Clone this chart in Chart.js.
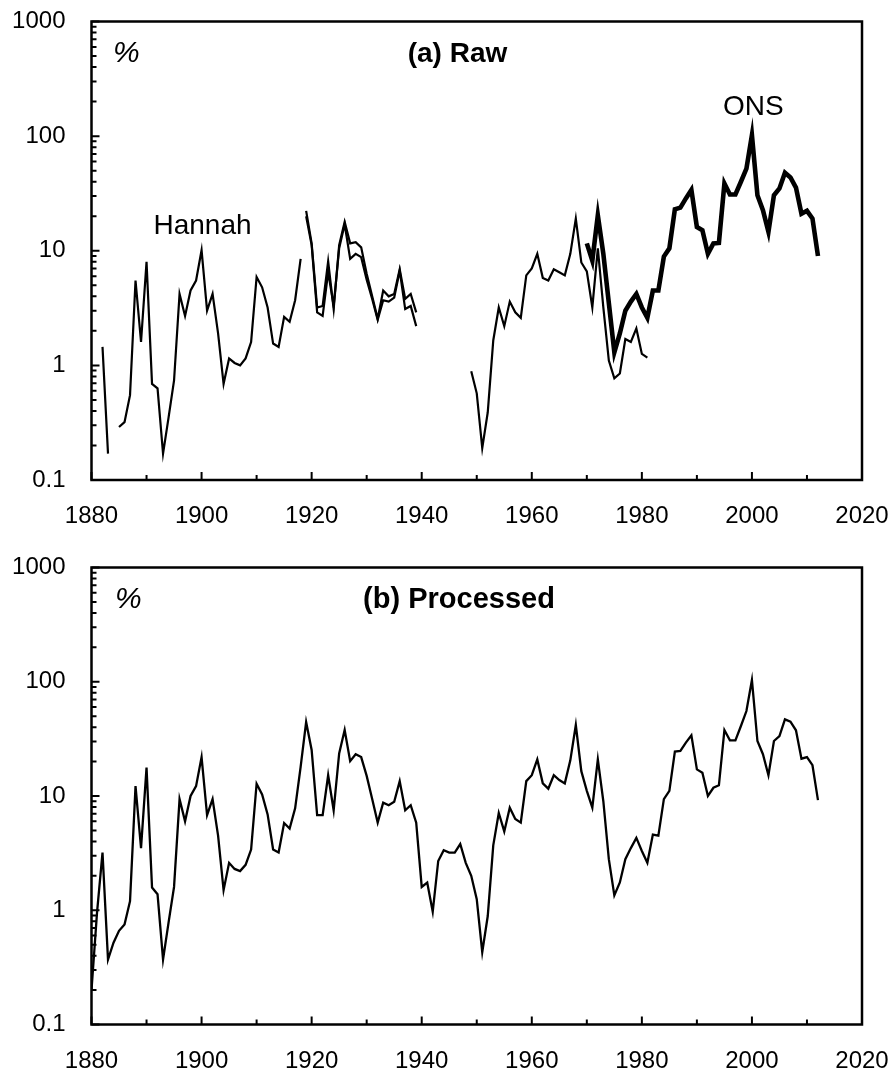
<!DOCTYPE html>
<html>
<head>
<meta charset="utf-8">
<script src="https://cdn.jsdelivr.net/npm/chart.js@4"></script>
<style>
  html, body { margin: 0; padding: 0; background: #fff; }
  #wrap { position: relative; width: 891px; height: 1073px; }
  canvas { position: absolute; left: 0; }
  #rawChart { top: 0; }
  #procChart { top: 536px; }
</style>
</head>
<body>
<div id="wrap">
  <canvas id="rawChart" width="891" height="536"></canvas>
  <canvas id="procChart" width="891" height="537"></canvas>
</div>
<script>
// axis ticks
const yDecades = [0.1, 1, 10, 100, 1000];
const xLabelYears = [1880, 1900, 1920, 1940, 1960, 1980, 2000, 2020];
const xMinorYears = [1890, 1910, 1930, 1950, 1970, 1990, 2010];

// (a) Raw - Hannah, 1882-1918 (no value for 1884)
const hannahStart = 1882;
const hannah = [1.45, 0.17, null, 0.29, 0.32, 0.55, 5.5, 1.6, 8.0, 0.69,
  0.63, 0.17, 0.35, 0.74, 4.2, 2.7, 4.5, 5.5, 10.1, 3.0,
  4.2, 1.9, 0.69, 1.15, 1.05, 1.0, 1.15, 1.6, 5.9, 4.8,
  3.2, 1.55, 1.45, 2.65, 2.4, 3.7, 8.5];

// (a) Raw - two interwar series, 1919-1939
const interwarStart = 1919;
const interwarA = [22.3, 11.6, 3.2, 3.3, 8.1, 3.1, 11.2, 17.9, 11.6, 11.9,
  10.7, 6.3, 4.0, 2.55, 4.5, 4.0, 4.2, 6.9, 3.8, 4.2, 2.9];
const interwarB = [20.0, 11.2, 2.9, 2.7, 6.5, 3.3, 10.5, 17.0, 8.5, 9.4,
  8.8, 5.6, 3.8, 2.5, 3.7, 3.6, 3.9, 6.7, 3.1, 3.3, 2.2];

// (a) Raw - postwar series, 1949-1981
const postwarStart = 1949;
const postwar = [0.89, 0.57, 0.19, 0.39, 1.65, 3.2, 2.2, 3.6, 2.9, 2.6,
  6.1, 7.0, 9.4, 5.8, 5.5, 6.9, 6.5, 6.1, 9.4, 19.1,
  7.9, 6.6, 3.2, 10.5, 3.2, 1.1, 0.77, 0.85, 1.7, 1.6,
  2.1, 1.26, 1.17];

// (a) Raw - ONS, 1970-2012
const onsStart = 1970;
const ons = [11.6, 8.2, 20.4, 9.4, 3.5, 1.3, 1.9, 3.0, 3.6, 4.2,
  3.2, 2.6, 4.5, 4.5, 8.9, 10.5, 23.0, 23.8, 28.6, 34.0,
  16.1, 15.1, 9.4, 11.6, 11.7, 38.6, 31.0, 31.0, 40.0, 52.0,
  102.0, 30.5, 22.6, 14.6, 30.5, 35.0, 48.0, 43.6, 35.6, 21.0,
  22.3, 19.1, 9.0];

// (b) Processed, 1880-2012
const processedStart = 1880;
const processed = [0.2, 0.95, 3.2, 0.37, 0.52, 0.66, 0.75, 1.2, 12.2, 3.5,
  17.7, 1.58, 1.38, 0.37, 0.78, 1.6, 9.4, 6.0, 10.0, 12.2,
  21.9, 6.8, 9.4, 4.5, 1.5, 2.6, 2.3, 2.2, 2.5, 3.4,
  12.8, 10.3, 6.9, 3.4, 3.2, 5.8, 5.2, 7.8, 18.0, 44.4,
  25.3, 6.8, 6.8, 15.2, 7.5, 23.6, 37.8, 20.2, 23.2, 21.9,
  15.0, 9.4, 5.85, 8.75, 8.3, 8.9, 13.5, 7.5, 8.3, 5.85,
  1.6, 1.75, 0.97, 2.7, 3.35, 3.2, 3.2, 3.8, 2.6, 2.0,
  1.25, 0.43, 0.89, 3.7, 7.1, 4.9, 7.9, 6.3, 5.85, 13.5,
  15.2, 20.9, 12.9, 11.6, 15.2, 13.8, 12.9, 20.5, 41.8, 16.5,
  11.1, 7.9, 20.9, 9.0, 2.8, 1.35, 1.75, 2.8, 3.5, 4.3,
  3.3, 2.6, 4.6, 4.5, 9.4, 11.1, 24.5, 24.8, 29.3, 34.0,
  17.1, 16.0, 10.0, 11.8, 12.4, 37.8, 30.7, 30.7, 41.0, 55.4,
  103.5, 30.3, 23.2, 15.2, 30.3, 33.5, 46.9, 44.8, 37.6, 21.2,
  21.9, 18.6, 9.2];

Chart.defaults.font.family = '"Liberation Sans", Arial, sans-serif';
Chart.defaults.font.size = 24;
Chart.defaults.color = '#000';

function toPoints(start, values) {
  return values.map((v, i) => ({ x: start + i, y: v }));
}

function lineSet(start, values, width) {
  return {
    data: toPoints(start, values),
    borderColor: '#000',
    borderWidth: width,
    pointRadius: 0,
    tension: 0,
    spanGaps: false,
    fill: false
  };
}

// frame, inward ticks and text labels
const panelDecor = {
  id: 'panelDecor',
  afterDraw(chart, args, opts) {
    const { ctx, chartArea: a, scales: { x, y } } = chart;
    ctx.save();
    ctx.strokeStyle = '#000';
    ctx.lineWidth = 2;
    ctx.beginPath();
    yDecades.forEach((d, i) => {
      const p = y.getPixelForValue(d);
      ctx.moveTo(a.left, p); ctx.lineTo(a.left + 8, p);
      if (i < yDecades.length - 1) {
        for (let m = 2; m <= 9; m++) {
          const q = y.getPixelForValue(d * m);
          ctx.moveTo(a.left, q); ctx.lineTo(a.left + 5, q);
        }
      }
    });
    xLabelYears.forEach(yr => {
      const p = x.getPixelForValue(yr);
      ctx.moveTo(p, a.bottom); ctx.lineTo(p, a.bottom - 8);
    });
    xMinorYears.forEach(yr => {
      const p = x.getPixelForValue(yr);
      ctx.moveTo(p, a.bottom); ctx.lineTo(p, a.bottom - 5);
    });
    ctx.stroke();
    ctx.lineWidth = 2.5;
    ctx.strokeRect(a.left, a.top, a.right - a.left, a.bottom - a.top);

    ctx.fillStyle = '#000';
    ctx.textBaseline = 'alphabetic';
    (opts.texts || []).forEach(t => {
      ctx.font = t.font;
      ctx.textAlign = t.align || 'left';
      ctx.fillText(t.text, t.x, t.y);
    });
    ctx.restore();
  }
};

function makeOptions(padTop, axisHeight, texts) {
  return {
    responsive: false,
    animation: false,
    events: [],
    layout: { padding: { left: 0, top: padTop, right: 29, bottom: 0 } },
    plugins: {
      legend: { display: false },
      tooltip: { enabled: false },
      panelDecor: { texts: texts }
    },
    scales: {
      x: {
        type: 'linear',
        min: 1880,
        max: 2020,
        border: { display: false },
        grid: { display: false, drawTicks: false },
        ticks: { stepSize: 20, padding: 22, maxRotation: 0, autoSkip: false,
                 callback: v => String(v) },
        afterBuildTicks: s => { s.ticks = xLabelYears.map(v => ({ value: v })); },
        afterFit: s => {
          s.height = axisHeight;
          s.paddingLeft = 0; s.paddingRight = 0;
        }
      },
      y: {
        type: 'logarithmic',
        min: 0.1,
        max: 1000,
        border: { display: false },
        grid: { display: false, drawTicks: false },
        ticks: { padding: 26, autoSkip: false, callback: v => String(v) },
        afterBuildTicks: s => { s.ticks = yDecades.map(v => ({ value: v })); },
        afterFit: s => {
          s.width = 91.5;
          s.paddingTop = 0; s.paddingBottom = 0;
        }
      }
    }
  };
}

new Chart(document.getElementById('rawChart'), {
  type: 'line',
  data: {
    datasets: [
      lineSet(hannahStart, hannah, 2.2),
      lineSet(interwarStart, interwarA, 2.2),
      lineSet(interwarStart, interwarB, 2.2),
      lineSet(postwarStart, postwar, 2.2),
      lineSet(onsStart, ons, 4.6)
    ]
  },
  options: makeOptions(21.5, 56, [
    { text: '%', x: 113, y: 62, font: 'italic 30px "Liberation Sans", Arial' },
    { text: '(a) Raw', x: 457.5, y: 62, align: 'center', font: 'bold 28px "Liberation Sans", Arial' },
    { text: 'Hannah', x: 202.5, y: 234, align: 'center', font: '28px "Liberation Sans", Arial' },
    { text: 'ONS', x: 753.3, y: 115, align: 'center', font: '28px "Liberation Sans", Arial' }
  ]),
  plugins: [panelDecor]
});

new Chart(document.getElementById('procChart'), {
  type: 'line',
  data: {
    datasets: [ lineSet(processedStart, processed, 2.3) ]
  },
  options: makeOptions(31.5, 48.5, [
    { text: '%', x: 115, y: 71.5, font: 'italic 30px "Liberation Sans", Arial' },
    { text: '(b) Processed', x: 459, y: 71.5, align: 'center', font: 'bold 29px "Liberation Sans", Arial' }
  ]),
  plugins: [panelDecor]
});
</script>
</body>
</html>
